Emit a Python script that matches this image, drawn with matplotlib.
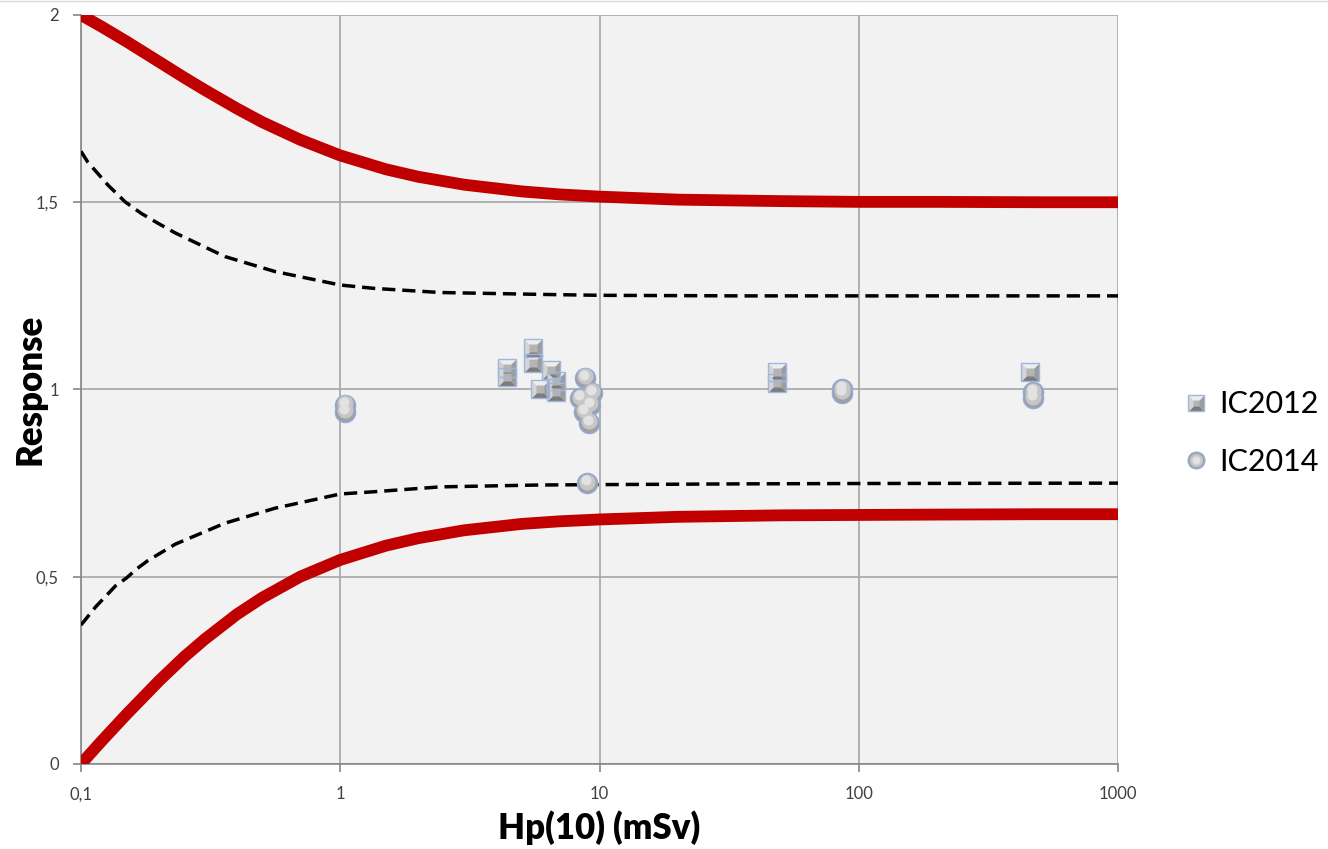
import matplotlib
matplotlib.use('Agg')
import matplotlib.pyplot as plt
import matplotlib.transforms as mtransforms
from matplotlib.lines import Line2D
from matplotlib.legend_handler import HandlerTuple

plt.rcParams['font.family'] = ['Lato', 'DejaVu Sans']

# limit curves (trumpet)
lim_x = [0.1, 0.12, 0.15, 0.2, 0.25, 0.3, 0.4, 0.5, 0.7, 1, 1.5, 2, 3, 5, 7, 10, 20, 50,
         100, 200, 500, 1000]
red_upper = [2.0, 1.969, 1.929, 1.875, 1.833, 1.8, 1.75, 1.714, 1.667, 1.625, 1.588, 1.568,
             1.547, 1.529, 1.521, 1.515, 1.507, 1.503, 1.501, 1.501, 1.5, 1.5]
red_lower = [0.0, 0.061, 0.133, 0.222, 0.286, 0.333, 0.4, 0.444, 0.5, 0.545, 0.583, 0.603,
             0.624, 0.641, 0.648, 0.653, 0.660, 0.664, 0.665, 0.666, 0.667, 0.667]

dash_x_up = [0.1, 0.106, 0.127, 0.148, 0.171, 0.198, 0.231, 0.359, 0.56, 1.0, 1.35, 2.43,
             5.87, 10, 34.6, 100, 1000]
dash_upper = [1.636, 1.608, 1.546, 1.501, 1.470, 1.444, 1.418, 1.355, 1.315, 1.279, 1.270,
              1.259, 1.254, 1.2515, 1.250, 1.25, 1.25]
dash_x_lo = [0.1, 0.114, 0.125, 0.136, 0.150, 0.164, 0.181, 0.2, 0.231, 0.359, 0.56, 1.0,
             1.35, 2.43, 5.87, 10, 34.6, 100, 1000]
dash_lower = [0.371, 0.42, 0.449, 0.476, 0.497, 0.521, 0.543, 0.561, 0.587, 0.643, 0.683,
              0.721, 0.727, 0.740, 0.745, 0.746, 0.748, 0.749, 0.75]

# measurements
ic2012_x = [4.4, 4.4, 5.55, 5.55, 6.5, 5.9, 6.8, 6.8, 48.4, 48.4, 457]
ic2012_y = [1.057, 1.033, 1.111, 1.071, 1.052, 1.001, 1.023, 0.993, 1.047, 1.017, 1.047]
ic2014_x = [1.04, 1.04, 8.8, 9.35, 8.4, 9.2, 8.7, 9.1, 8.95, 86, 86, 470, 470]
ic2014_y = [0.959, 0.940, 1.031, 0.991, 0.977, 0.959, 0.940, 0.911, 0.750, 1.001, 0.991,
            0.993, 0.977]

x_ticks = [0.1, 1, 10, 100, 1000]
x_labels = ['0,1', '1', '10', '100', '1000']
y_ticks = [0, 0.5, 1, 1.5, 2]
y_labels = ['0', '0,5', '1', '1,5', '2']

fig = plt.figure(figsize=(13.28, 8.49), dpi=100)
ax = fig.add_axes([81 / 1328, 1 - 764 / 849, (1118 - 81) / 1328, (764 - 15) / 849])
ax.set_facecolor('#f2f2f2')

ax.plot(lim_x, red_upper, color='#c00000', lw=8.5, solid_capstyle='butt', zorder=3)
ax.plot(lim_x, red_lower, color='#c00000', lw=8.5, solid_capstyle='butt', zorder=3)
ax.plot(dash_x_up, dash_upper, color='black', lw=2.5, ls=(0, (3.8, 2)), zorder=3)
ax.plot(dash_x_lo, dash_lower, color='black', lw=2.5, ls=(0, (3.8, 2)), zorder=3)

# square marker as a bevelled pyramid: four triangles
tri_top = [(-1, 1), (1, 1), (0, 0), (-1, 1)]
tri_bot = [(-1, -1), (1, -1), (0, 0), (-1, -1)]
tri_left = [(-1, -1), (-1, 1), (0, 0), (-1, -1)]
tri_right = [(1, -1), (1, 1), (0, 0), (1, -1)]


def square_layers(ms):
    return [
        dict(marker=tri_top, ms=ms, mfc='#eeeeee', mec='none'),
        dict(marker=tri_bot, ms=ms, mfc='#7c7c7c', mec='none'),
        dict(marker=tri_left, ms=ms, mfc='#d4d4d4', mec='none'),
        dict(marker=tri_right, ms=ms, mfc='#9c9c9c', mec='none'),
        dict(marker='s', ms=ms * 0.45, mfc='#b4b4b4', mec='none'),
        dict(marker='s', ms=ms, mfc='none', mec='#9fb6de', mew=1.0),
    ]


def circle_layers(ms):
    return [
        dict(marker='o', ms=ms, mfc='#a0a0a0', mec='#8faadc', mew=1.0),
        dict(marker='o', ms=ms * 0.8, mfc='#c6c6c6', mec='none'),
        dict(marker='o', ms=ms * 0.5, mfc='#e2e2e2', mec='none'),
    ]


up2 = mtransforms.offset_copy(ax.transData, fig=fig, x=0, y=1.5, units='dots')
up4 = mtransforms.offset_copy(ax.transData, fig=fig, x=-1, y=3, units='dots')

for kw in square_layers(13):
    ax.plot(ic2012_x, ic2012_y, ls='none', zorder=4, **kw)

cl = circle_layers(14.5)
ax.plot(ic2014_x, ic2014_y, ls='none', zorder=5, **cl[0])
ax.plot(ic2014_x, ic2014_y, ls='none', zorder=5, transform=up2, **cl[1])
ax.plot(ic2014_x, ic2014_y, ls='none', zorder=5, transform=up4, **cl[2])

ax.set_xscale('log')
ax.set_xlim(0.1, 1000)
ax.set_ylim(0, 2)
ax.set_xticks(x_ticks)
ax.set_xticklabels(x_labels)
ax.minorticks_off()
ax.set_yticks(y_ticks)
ax.set_yticklabels(y_labels)
ax.tick_params(axis='both', labelsize=12, color='#868686', length=6, width=1.2,
               labelcolor='#404040')
ax.tick_params(axis='x', pad=10)
ax.tick_params(axis='y', pad=10)

ax.grid(True, color='#a6a6a6', lw=1.2)
ax.set_axisbelow(True)
for side in ['top', 'right']:
    ax.spines[side].set_visible(False)
for side in ['left', 'bottom']:
    ax.spines[side].set_color('#868686')
    ax.spines[side].set_linewidth(1.2)

ax.set_xlabel('Hp(10) (mSv)', fontsize=25, fontweight='heavy')
ax.xaxis.set_label_coords(0.5, -(828 - 764) / 749, transform=ax.transAxes)
ax.xaxis.label.set_va('center')
ax.set_ylabel('Response', fontsize=25, fontweight='heavy')
ax.yaxis.set_label_coords(-(81 - 30) / 1037, 0.5, transform=ax.transAxes)
ax.yaxis.label.set_va('center')

h12 = tuple(Line2D([], [], ls='none', **kw) for kw in square_layers(11))
h14 = tuple(Line2D([], [], ls='none', **kw) for kw in circle_layers(12))
fig.legend([h12, h14], ['IC2012', 'IC2014'], handler_map={tuple: HandlerTuple(ndivide=1)},
           loc='center left', bbox_to_anchor=(1175 / 1328, 1 - 433 / 849), frameon=False,
           fontsize=22, handlelength=0.8, handletextpad=0.35, labelspacing=0.95,
           borderaxespad=0, borderpad=0.3)

fig.add_artist(Line2D([0, 1], [0.999, 0.999], color='#d9d9d9', lw=1, transform=fig.transFigure))

fig.savefig('out.png', dpi=100)
plt.close(fig)
